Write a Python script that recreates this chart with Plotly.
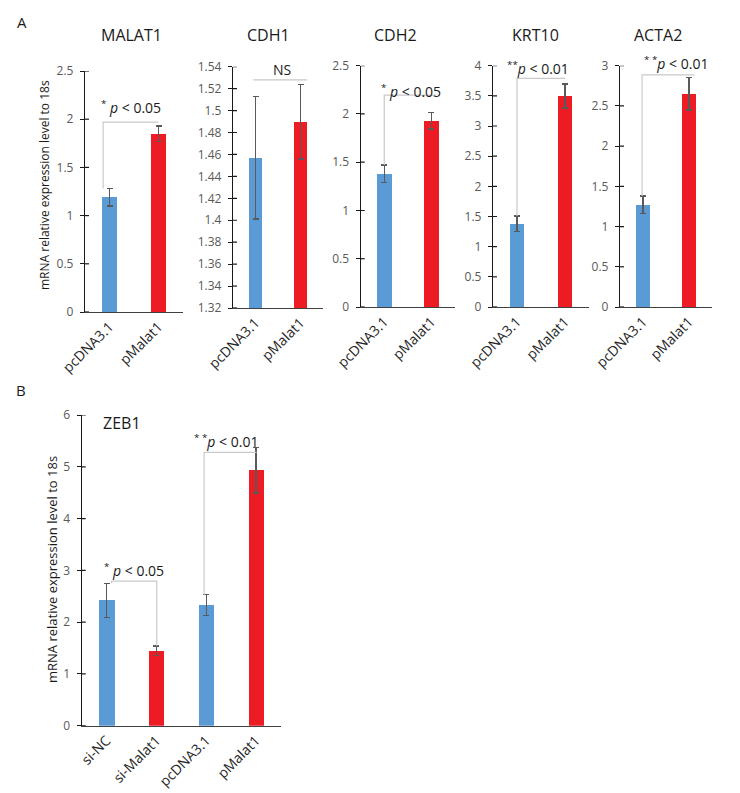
import plotly.graph_objects as go

# page body has an 8px default margin: draw in page pixels, shifted by that offset
PAGE_W, PAGE_H = 740, 793
OFF = 8
W, H = PAGE_W - OFF, PAGE_H - OFF


def fx(px):
    return (px - OFF) / W


def fy(py):
    return 1 - (py - OFF) / H


# ---------------- data ----------------
cats_a = ["pcDNA3.1", "pMalat1"]
cats_b = ["si-NC", "si-Malat1", "pcDNA3.1", "pMalat1"]

malat1_vals = [1.19, 1.85]
malat1_err = [0.09, 0.08]
cdh1_vals = [1.457, 1.490]
cdh1_err = [0.056, 0.034]
cdh2_vals = [1.38, 1.93]
cdh2_err = [0.09, 0.085]
krt10_vals = [1.38, 3.50]
krt10_err = [0.13, 0.20]
acta2_vals = [1.27, 2.65]
acta2_err = [0.11, 0.20]
zeb1_vals = [2.42, 1.45, 2.33, 4.93]
zeb1_err = [0.33, 0.09, 0.20, 0.44]

# y tick values / labels
malat1_ticks = [0, 0.5, 1, 1.5, 2, 2.5]
cdh1_ticks = [1.32, 1.34, 1.36, 1.38, 1.40, 1.42, 1.44, 1.46, 1.48, 1.50, 1.52, 1.54]
cdh1_ticklabels = ["1.32", "1.34", "1.36", "1.38", "1.4", "1.42", "1.44", "1.46", "1.48", "1.5", "1.52", "1.54"]
cdh2_ticks = [0, 0.5, 1, 1.5, 2, 2.5]
krt10_ticks = [0, 0.5, 1, 1.5, 2, 2.5, 3, 3.5, 4]
acta2_ticks = [0, 0.5, 1, 1.5, 2, 2.5, 3]
zeb1_ticks = [0, 1, 2, 3, 4, 5, 6]

colors_a = ["#5B9BD5", "#ED1C24"]
colors_b = ["#5B9BD5", "#ED1C24", "#5B9BD5", "#ED1C24"]

FONT = "Open Sans"
fig = go.Figure()

# panel geometry in page pixels: (x0, x1, ytop, ybottom)
panels = [
    dict(name="MALAT1", vals=malat1_vals, err=malat1_err, cats=cats_a, cols=colors_a,
         px=(85, 183, 71, 312), rng=[0, 2.5], ticks=malat1_ticks),
    dict(name="CDH1", vals=cdh1_vals, err=cdh1_err, cats=cats_a, cols=colors_a,
         px=(233, 323, 66.7, 308), rng=[1.32, 1.54], ticks=cdh1_ticks, ticktext=cdh1_ticklabels),
    dict(name="CDH2", vals=cdh2_vals, err=cdh2_err, cats=cats_a, cols=colors_a,
         px=(360.7, 455, 65.7, 307), rng=[0, 2.5], ticks=cdh2_ticks),
    dict(name="KRT10", vals=krt10_vals, err=krt10_err, cats=cats_a, cols=colors_a,
         px=(493, 589, 65.7, 307), rng=[0, 4], ticks=krt10_ticks),
    dict(name="ACTA2", vals=acta2_vals, err=acta2_err, cats=cats_a, cols=colors_a,
         px=(620, 712, 65.7, 307), rng=[0, 3], ticks=acta2_ticks),
    dict(name="ZEB1", vals=zeb1_vals, err=zeb1_err, cats=cats_b, cols=colors_b,
         px=(81.7, 281, 415, 725.7), rng=[0, 6], ticks=zeb1_ticks),
]

BRACKET = "#c9c9c9"

# brackets (x, y in data coords) per panel
brackets = {
    0: [([-0.13, -0.13, 1.0], [1.28, 1.97, 1.97])],
    1: [([-0.05, 1.15], [1.528, 1.528])],
    2: [([0.0, 0.0, 1.1], [1.47, 2.195, 2.195])],
    3: [([0.0, 0.0, 1.0], [1.51, 3.79, 3.79])],
    4: [([-0.02, -0.02, 1.12], [1.38, 2.886, 2.886])],
    5: [([0.1, 0.1, 1.006, 1.006], [2.75, 2.79, 2.79, 1.54]),
        ([1.956, 1.956, 3.01], [2.53, 5.28, 5.28])],
}

# p-value labels: (x, y, use y-domain ref, text)
labels = {
    0: [(-0.22, 2.13, False, "<sup>*</sup> <i>p</i> < 0.05")],
    1: [(0.59, 1.537, False, "NS")],
    2: [(-0.12, 2.24, False, "<sup>*</sup> <i>p</i> < 0.05")],
    3: [(-0.25, 3.97, False, "<sup>**</sup><i>p</i> < 0.01")],
    4: [(-0.02, 1.012, True, "<sup>* *</sup><i>p</i> < 0.01")],
    5: [(-0.1, 3.0, False, "<sup>*</sup> <i>p</i> < 0.05"), (1.72, 5.5, False, "<sup>* *</sup><i>p</i> < 0.01")],
}

annotations = []
shapes = []
layout_axes = {}
for i, p in enumerate(panels):
    n = i + 1
    xa = "x" if n == 1 else f"x{n}"
    ya = "y" if n == 1 else f"y{n}"
    x0, x1, yt, yb = p["px"]
    ncat = len(p["cats"])
    xs = list(range(ncat))
    fig.add_trace(go.Bar(
        x=xs, y=p["vals"], width=0.31, xaxis=xa, yaxis=ya,
        marker=dict(color=p["cols"], line=dict(width=0)),
        error_y=dict(type="data", array=p["err"], color="#595959", thickness=1.4, width=3),
        showlegend=False,
    ))
    for bx, by in brackets[i]:
        fig.add_trace(go.Scatter(x=bx, y=by, mode="lines", xaxis=xa, yaxis=ya,
                                 line=dict(color=BRACKET, width=1.2), showlegend=False,
                                 hoverinfo="skip"))
    xkey = "xaxis" if n == 1 else f"xaxis{n}"
    ykey = "yaxis" if n == 1 else f"yaxis{n}"
    layout_axes[xkey] = dict(
        domain=[fx(x0), fx(x1)], anchor=ya, range=[-0.5, ncat - 0.5], automargin=False,
        tickvals=xs, ticktext=p["cats"], tickangle=-45, ticks="",
        showline=True, linecolor="#404040", linewidth=1.4, showgrid=False, zeroline=False,
        tickfont=dict(family=FONT, size=14, color="#262626"), fixedrange=True,
    )
    yax = dict(
        domain=[fy(yb), fy(yt)], anchor=xa, range=p["rng"], automargin=False,
        showline=True, linecolor="#1a1a1a", linewidth=1.4, showgrid=False, zeroline=False,
        ticks="outside", ticklen=4, tickwidth=1.2, tickcolor="#1a1a1a", ticklabelstandoff=4,
        tickfont=dict(family=FONT, size=12, color="#595959"),
        tickmode="array", tickvals=p["ticks"],
    )
    if "ticktext" in p:
        yax.update(ticktext=p["ticktext"])
    layout_axes[ykey] = yax
    # inner half of the crossing tick marks
    for tv in p["ticks"]:
        shapes.append(dict(type="line", xref=f"{xa} domain", yref=ya, xsizemode="pixel",
                           xanchor=0, x0=0, x1=4, y0=tv, y1=tv,
                           line=dict(color="#1a1a1a", width=1.2)))

    for lx, ly, dom, txt in labels[i]:
        annotations.append(dict(
            x=lx, y=ly, xref=xa, yref=(ya + " domain") if dom else ya, text=txt, showarrow=False,
            xanchor="center" if txt == "NS" else "left", yanchor="middle",
            font=dict(family=FONT, size=14, color="#1a1a1a"),
        ))

# titles
titles = [("MALAT1", 131, 35), ("CDH1", 268, 35), ("CDH2", 395, 35),
          ("KRT10", 535.5, 35), ("ACTA2", 657.5, 35), ("ZEB1", 121.5, 423)]
for t, tx, ty in titles:
    annotations.append(dict(x=fx(tx), y=fy(ty), xref="paper", yref="paper", text=t,
                            showarrow=False, xanchor="center", yanchor="middle",
                            font=dict(family=FONT, size=16, color="#1a1a1a")))

# y-axis titles
annotations.append(dict(x=fx(45), y=fy(185), xref="paper", yref="paper",
                        text="mRNA relative expression level to 18s", textangle=-90,
                        showarrow=False, xanchor="center", yanchor="middle",
                        font=dict(family=FONT, size=12, color="#1a1a1a")))
annotations.append(dict(x=fx(52), y=fy(570), xref="paper", yref="paper",
                        text="mRNA relative expression level to 18s", textangle=-90,
                        showarrow=False, xanchor="center", yanchor="middle",
                        font=dict(family=FONT, size=13, color="#1a1a1a")))
# panel letters
for letter, lx, ly in [("A", 22, 22), ("B", 21, 390)]:
    annotations.append(dict(x=fx(lx), y=fy(ly), xref="paper", yref="paper", text=letter,
                            showarrow=False, xanchor="center", yanchor="middle",
                            font=dict(family=FONT, size=15, color="#1a1a1a")))

fig.update_layout(
    template="none",
    width=W, height=H, margin=dict(l=0, r=0, t=0, b=0, autoexpand=False),
    paper_bgcolor="white", plot_bgcolor="rgba(0,0,0,0)",
    annotations=annotations, shapes=shapes, showlegend=False, bargap=0,
    **layout_axes,
)

fig.write_html("out.html")
